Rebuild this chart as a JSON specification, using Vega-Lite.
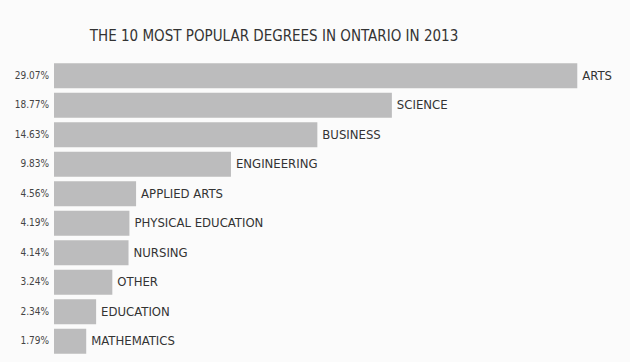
{
  "$schema": "https://vega.github.io/schema/vega-lite/v6.json",
  "autosize": "none",
  "width": 560,
  "height": 295,
  "padding": {"left": 54, "top": 61, "right": 16, "bottom": 6},
  "background": "#fbfbfb",
  "title": {
    "text": "THE 10 MOST POPULAR DEGREES IN ONTARIO IN 2013",
    "font": "DejaVu Sans Condensed",
    "fontSize": 15,
    "fontWeight": "normal",
    "color": "#333333",
    "anchor": "middle",
    "dx": -60,
    "offset": 17
  },
  "config": {"view": {"stroke": null}},
  "data": {
    "values": [
      {"degree": "ARTS", "pct": 29.07, "label": "29.07%"},
      {"degree": "SCIENCE", "pct": 18.77, "label": "18.77%"},
      {"degree": "BUSINESS", "pct": 14.63, "label": "14.63%"},
      {"degree": "ENGINEERING", "pct": 9.83, "label": "9.83%"},
      {"degree": "APPLIED ARTS", "pct": 4.56, "label": "4.56%"},
      {"degree": "PHYSICAL EDUCATION", "pct": 4.19, "label": "4.19%"},
      {"degree": "NURSING", "pct": 4.14, "label": "4.14%"},
      {"degree": "OTHER", "pct": 3.24, "label": "3.24%"},
      {"degree": "EDUCATION", "pct": 2.34, "label": "2.34%"},
      {"degree": "MATHEMATICS", "pct": 1.79, "label": "1.79%"}
    ]
  },
  "encoding": {
    "y": {
      "field": "degree",
      "type": "nominal",
      "sort": null,
      "axis": null,
      "scale": {"paddingInner": 0.15, "paddingOuter": 0.075}
    }
  },
  "layer": [
    {
      "mark": {"type": "bar", "color": "#bcbcbd"},
      "encoding": {
        "x": {"field": "pct", "type": "quantitative", "axis": null, "scale": {"domain": [0, 31.11], "nice": false}}
      }
    },
    {
      "mark": {"type": "text", "align": "left", "dx": 5, "font": "DejaVu Sans Condensed", "fontSize": 13, "color": "#333333"},
      "encoding": {
        "x": {"field": "pct", "type": "quantitative"},
        "text": {"field": "degree"}
      }
    },
    {
      "mark": {"type": "text", "align": "right", "dx": -5, "font": "DejaVu Sans Condensed", "fontSize": 10, "color": "#444444"},
      "encoding": {
        "x": {"datum": 0, "type": "quantitative"},
        "text": {"field": "label"}
      }
    }
  ]
}
